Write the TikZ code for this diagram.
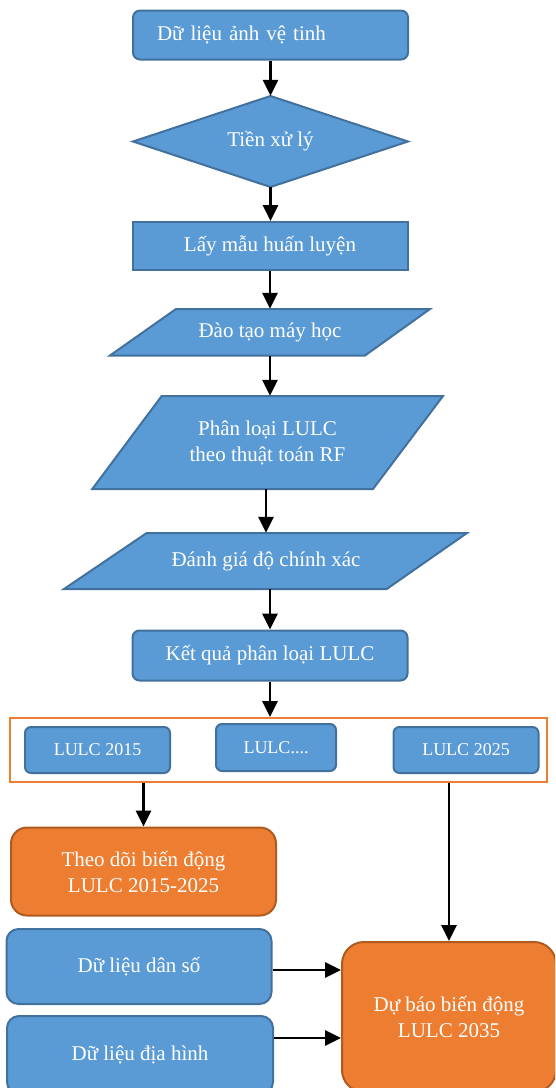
\documentclass[tikz,border=0pt]{standalone}
\usepackage{fontspec}
\setmainfont{Liberation Serif}
\usetikzlibrary{arrows.meta}
\definecolor{bfill}{HTML}{5B9BD5}
\definecolor{bline}{HTML}{41719C}
\definecolor{ofill}{HTML}{ED7D31}
\definecolor{oline}{HTML}{AE5A21}
\begin{document}
\begin{tikzpicture}[x=1pt,y=-1pt,
  bigfont/.style={font=\fontsize{21}{26}\selectfont},
  smallfont/.style={font=\fontsize{18}{22}\selectfont},
  shp/.style={draw=bline, line width=2pt, fill=bfill, line join=miter},
  flowbox/.style={shp, text=white, bigfont, align=center, inner sep=0pt},
  rbox/.style={flowbox, rounded corners=7pt},
  lulcbox/.style={shp, text=white, smallfont, align=center, inner sep=0pt, rounded corners=6pt},
  obox/.style={draw=oline, fill=ofill, line width=2pt, text=white, bigfont, align=center, inner sep=0pt, rounded corners=16pt},
  ptext/.style={text=white, bigfont, align=center, inner sep=0pt},
  arr/.style={-{Triangle[length=16pt,width=15pt]}, line width=2.8pt, black}]
\useasboundingbox (0,0) rectangle (555,1088);
\clip (0,0) rectangle (555,1088);

% top box
\node[rbox, minimum width=275pt, minimum height=49pt, text width=227pt, inner xsep=24pt, align=left] (src) at (270.5,35) {Dữ liệu ảnh vệ tinh};

% diamond
\draw[shp] (133,141.5) -- (270.5,96) -- (408,141.5) -- (270.5,187) -- cycle;
\node[ptext, minimum height=91pt] (pre) at (270.5,141.5) {Tiền xử lý};

% sampling
\node[flowbox, minimum width=275pt, minimum height=48pt] (samp) at (270,246) {Lấy mẫu huấn luyện};

% training
\draw[shp] (176,309) -- (430,309) -- (365,355.5) -- (110,355.5) -- cycle;
\node[ptext, minimum height=46.5pt] (train) at (270,332.25) {Đào tạo máy học};

% classification
\draw[shp] (161.7,396) -- (443,396) -- (373,489) -- (92.3,489) -- cycle;
\node[ptext, minimum height=93pt] (cls) at (267.5,442.5) {Phân loại LULC\\theo thuật toán RF};

% accuracy
\draw[shp] (146.7,533) -- (467,533) -- (386.7,589) -- (64,589) -- cycle;
\node[ptext, minimum height=56pt] (acc) at (266,561) {Đánh giá độ chính xác};

% result
\node[rbox, minimum width=275pt, minimum height=50pt] (res) at (270,655.5) {Kết quả phân loại LULC};

% frame
\node[draw=ofill, line width=2pt, minimum width=537pt, minimum height=64pt, inner sep=0pt] (frame) at (278.5,750) {};
\node[lulcbox, minimum width=145pt, minimum height=46pt] (l15) at (97.5,750) {LULC 2015};
\node[lulcbox, minimum width=120pt, minimum height=47pt] (ldots) at (276,747.5) {LULC....};
\node[lulcbox, minimum width=145pt, minimum height=46pt] (l25) at (466,750) {LULC 2025};

% bottom
\node[obox, minimum width=265pt, minimum height=88pt] (track) at (143.5,871.5) {Theo dõi biến động\\LULC 2015-2025};
\node[rbox, rounded corners=12pt, minimum width=265pt, minimum height=75pt] (pop) at (139,966.5) {Dữ liệu dân số};
\node[rbox, rounded corners=12pt, minimum width=266pt, minimum height=78pt] (topo) at (140,1055) {Dữ liệu địa hình};
\node[obox, rounded corners=22pt, minimum width=214pt, minimum height=150pt] (fc) at (449,1017) {Dự báo biến động\\LULC 2035};

% connectors
\draw[arr] (src.south -| pre.north) -- (pre.north);
\draw[arr] (pre.south) -- (pre.south |- samp.north);
\draw[arr] (samp.south) -- (samp.south |- train.north);
\draw[arr] (train.south) -- (train.south |- cls.north);
\draw[arr] (cls.south -| acc.north) -- (acc.north);
\draw[arr] (acc.south -| res.north) -- (res.north);
\draw[arr] (res.south) -- (res.south |- frame.north);
\draw[arr] (track.north |- frame.south) -- (track.north);
\draw[arr] (fc.north |- frame.south) -- (fc.north);
\draw[arr] ([yshift=-3.5pt]pop.east) -- ([yshift=-3.5pt]pop.east -| fc.west);
\draw[arr] ([yshift=17pt]topo.east) -- ([yshift=17pt]topo.east -| fc.west);
\end{tikzpicture}
\end{document}
